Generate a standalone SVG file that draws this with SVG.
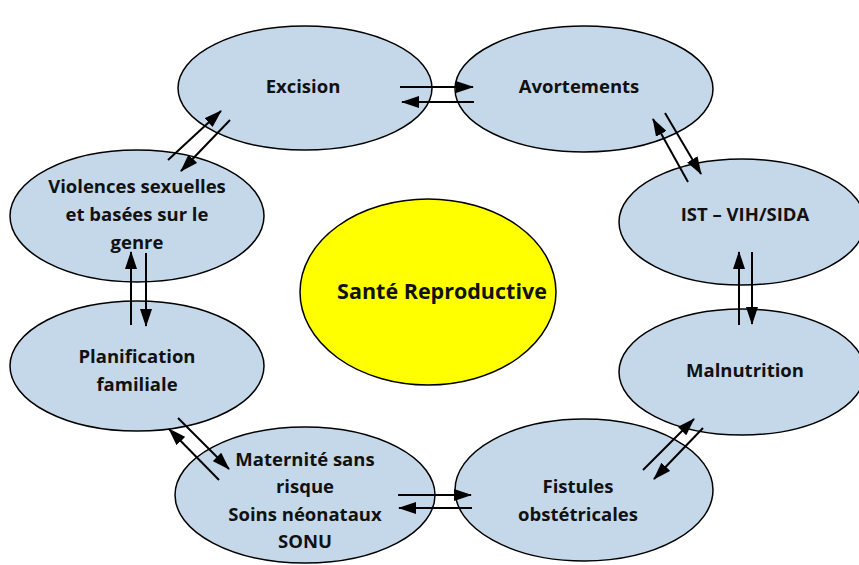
<svg xmlns="http://www.w3.org/2000/svg" width="859" height="565" viewBox="0 0 859 565">
<style>
.n{fill:#c5d8e9;stroke:#000;stroke-width:1.5}
.c{fill:#ffff00;stroke:#000;stroke-width:1.5}
.t{font-family:"Open Sans",Lato,sans-serif;font-weight:bold;font-size:18.5px;fill:#111;text-anchor:middle}
.a{stroke:#000;stroke-width:2;fill:none;marker-end:url(#ah)}
</style>
<defs>
<marker id="ah" markerWidth="18" markerHeight="12" refX="17" refY="6" orient="auto" markerUnits="userSpaceOnUse">
<path d="M0,0 L18,6 L0,12 Z" fill="#000"/>
</marker>
</defs>
<rect width="859" height="565" fill="#fff"/>
<g id="excision"><ellipse class="n" cx="305" cy="88" rx="127" ry="62"/><text class="t" x="303" y="93">Excision</text></g>
<g id="avortements"><ellipse class="n" cx="584" cy="89" rx="129" ry="63"/><text class="t" x="579" y="93">Avortements</text></g>
<g id="ist"><ellipse class="n" cx="742" cy="222" rx="123" ry="63"/><text class="t" x="745" y="221">IST – VIH/SIDA</text></g>
<g id="malnutrition"><ellipse class="n" cx="742" cy="372" rx="123" ry="63"/><text class="t" x="745" y="377">Malnutrition</text></g>
<g id="fistules"><ellipse class="n" cx="584" cy="490" rx="129" ry="71"/><text class="t" x="578" y="493">Fistules</text><text class="t" x="578" y="521">obstétricales</text></g>
<g id="maternite"><ellipse class="n" cx="305" cy="495" rx="130" ry="68"/><text class="t" x="305" y="466">Maternité sans</text><text class="t" x="305" y="493">risque</text><text class="t" x="305" y="521">Soins néonataux</text><text class="t" x="305" y="548">SONU</text></g>
<g id="planification"><ellipse class="n" cx="137" cy="366" rx="127" ry="65"/><text class="t" x="137" y="363">Planification</text><text class="t" x="137" y="391">familiale</text></g>
<g id="violences"><ellipse class="n" cx="137" cy="216" rx="127" ry="66"/><text class="t" x="137" y="193">Violences sexuelles</text><text class="t" x="137" y="221">et basées sur le</text><text class="t" x="137" y="249">genre</text></g>
<g id="sante"><ellipse class="c" cx="428" cy="292" rx="128" ry="93"/><text class="t" x="442" y="299" style="font-size:21.5px">Santé Reproductive</text></g>
<g id="connectors">
<line class="a" x1="400" y1="87" x2="473" y2="87"/>
<line class="a" x1="474" y1="102" x2="402" y2="102"/>
<line class="a" x1="168" y1="160" x2="221" y2="111"/>
<line class="a" x1="230" y1="120" x2="181" y2="171"/>
<line class="a" x1="688" y1="182" x2="653" y2="119"/>
<line class="a" x1="665" y1="113" x2="701" y2="174"/>
<line class="a" x1="739" y1="325" x2="739" y2="252"/>
<line class="a" x1="752" y1="252" x2="752" y2="324"/>
<line class="a" x1="643" y1="470" x2="694" y2="419"/>
<line class="a" x1="703" y1="428" x2="654" y2="479"/>
<line class="a" x1="398" y1="495" x2="471" y2="495"/>
<line class="a" x1="472" y1="508" x2="399" y2="508"/>
<line class="a" x1="178" y1="418" x2="229" y2="469"/>
<line class="a" x1="219" y1="480" x2="169" y2="429"/>
<line class="a" x1="131" y1="325" x2="131" y2="252"/>
<line class="a" x1="146" y1="253" x2="146" y2="326"/>
</g>
</svg>
